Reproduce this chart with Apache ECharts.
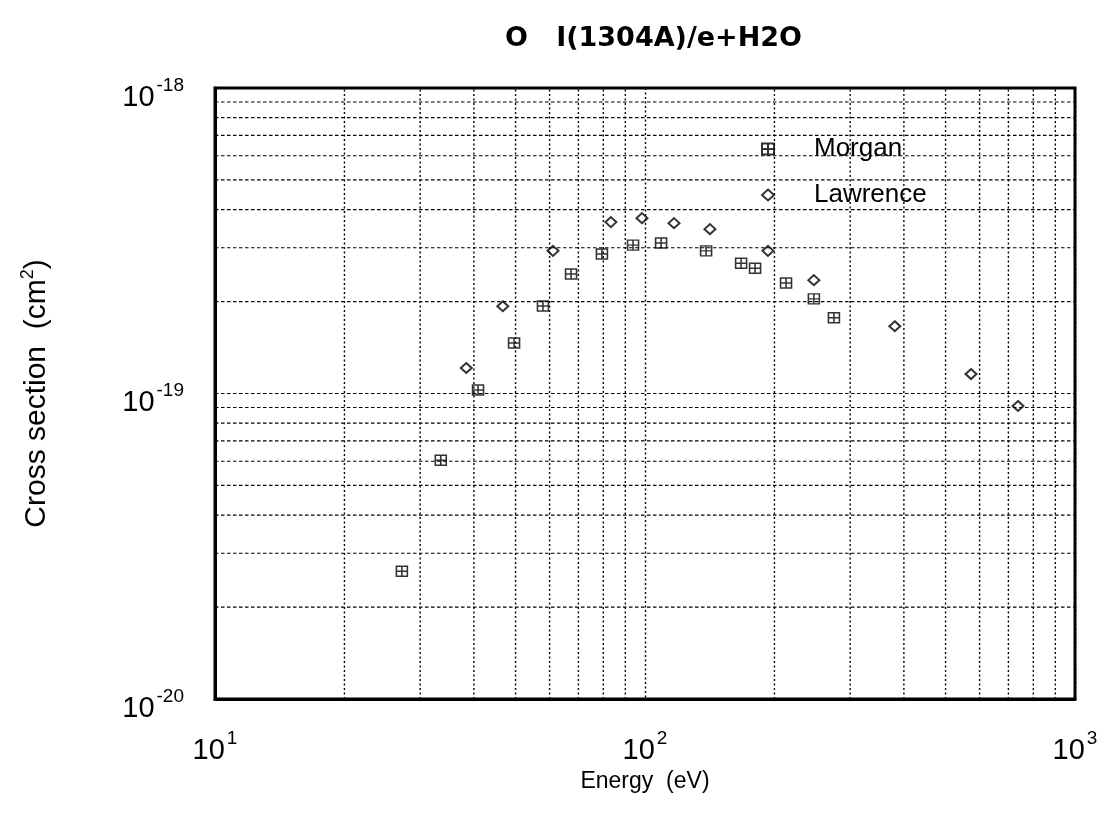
<!DOCTYPE html>
<html>
<head>
<meta charset="utf-8">
<script src="https://cdn.jsdelivr.net/npm/echarts@6/dist/echarts.min.js"></script>
<style>html,body{margin:0;padding:0;background:#fff;}#c{width:1103px;height:822px;}</style>
</head>
<body>
<div id="c"></div>
<script>
// Data
const morganE = [27.2, 33.5, 40.9, 49.6, 57.9, 67.3, 79.4, 93.8, 109, 138.7, 167.3, 180.3, 212.8, 247, 275];
const morganQ = [2.62e-20, 6.05e-20, 1.027e-19, 1.464e-19, 1.934e-19, 2.46e-19, 2.86e-19, 3.06e-19, 3.11e-19, 2.93e-19, 2.67e-19, 2.57e-19, 2.30e-19, 2.04e-19, 1.77e-19];
const lawrenceE = [38.4, 46.7, 61.1, 83.3, 98.4, 116.8, 141.6, 193.2, 247, 381, 573, 737];
const lawrenceQ = [1.212e-19, 1.93e-19, 2.93e-19, 3.64e-19, 3.75e-19, 3.61e-19, 3.45e-19, 2.93e-19, 2.35e-19, 1.66e-19, 1.158e-19, 9.10e-20];
// Minor grid positions (log decades)
const xMinor = [20, 30, 40, 50, 60, 70, 80, 90, 200, 300, 400, 500, 600, 700, 800, 900];
const yMinor = [2e-20, 3e-20, 4e-20, 5e-20, 6e-20, 7e-20, 8e-20, 9e-20, 2e-19, 3e-19, 4e-19, 5e-19, 6e-19, 7e-19, 8e-19, 9e-19];
const xRange = [10, 1000];
const yRange = [1e-20, 1e-18];

const FONT = 'Liberation Sans';
const chart = echarts.init(document.getElementById('c'), null, {renderer: 'canvas'});

function zip(a, b) { return a.map((v, i) => [v, b[i]]); }
const expRich = {
  b: {fontSize: 29, fontFamily: FONT, color: '#000', lineHeight: 36, verticalAlign: 'bottom'},
  s: {fontSize: 19, fontFamily: FONT, color: '#000', lineHeight: 36, verticalAlign: 'top', padding: [0, 0, 0, 2]}
};
function expFmt(v) {
  const e = Math.round(Math.log10(v));
  return '{b|10}{s|' + e + '}';
}
const gridV = {type: [2, 2.5], color: '#000', width: 1.4};
const gridH = {type: [3.5, 2.5], color: '#000', width: 1.2};

const squarePath = 'path://M0,0H10V9H0Z M5,0V9 M0,4.5H10';

const gridSeries = xMinor.map(v => ({
  type: 'line', silent: true, symbol: 'none', z: 1,
  data: [[v, yRange[0]], [v, yRange[1]]], lineStyle: gridV
})).concat(yMinor.map(v => ({
  type: 'line', silent: true, symbol: 'none', z: 1,
  data: [[xRange[0], v], [xRange[1], v]], lineStyle: gridH
})));

chart.setOption({
  animation: false,
  backgroundColor: '#fff',
  title: {
    text: 'O   I(1304A)/e+H2O',
    left: 500, top: 20,
    textStyle: {fontFamily: 'DejaVu Sans', fontSize: 27, fontWeight: 'bold', color: '#000'}
  },
  legend: {
    orient: 'vertical',
    left: 756, top: 131,
    itemGap: 20,
    itemWidth: 12, itemHeight: 11,
    textStyle: {fontFamily: FONT, fontSize: 26, color: '#000', padding: [0, 0, 0, 35]},
    data: ['Morgan', 'Lawrence']
  },
  grid: {left: 215, right: 28, top: 88, bottom: 123, show: true, borderColor: '#000', borderWidth: 3, backgroundColor: 'transparent'},
  xAxis: {
    type: 'log', logBase: 10, min: xRange[0], max: xRange[1],
    name: 'Energy  (eV)', nameLocation: 'middle', nameGap: 54,
    nameTextStyle: {fontFamily: FONT, fontSize: 23, color: '#000'},
    axisLine: {show: true, lineStyle: {color: '#000', width: 3}},
    axisTick: {show: false},
    axisLabel: {formatter: expFmt, rich: expRich, margin: 30},
    splitLine: {show: true, lineStyle: gridV}
  },
  yAxis: {
    type: 'log', logBase: 10, min: yRange[0], max: yRange[1],
    name: 'Cross section  (cm{s|2})', nameLocation: 'middle', nameGap: 160,
    nameTextStyle: {fontFamily: FONT, fontSize: 30, color: '#000',
      rich: {s: {fontFamily: FONT, fontSize: 18, color: '#000', verticalAlign: 'top', lineHeight: 36}}},
    axisLine: {show: true, lineStyle: {color: '#000', width: 3}},
    axisTick: {show: false},
    axisLabel: {formatter: expFmt, rich: expRich, margin: 31, padding: [12, 0, 0, 0]},
    splitLine: {show: true, lineStyle: gridH}
  },
  series: gridSeries.concat([
    {
      name: 'Morgan', type: 'scatter',
      symbol: squarePath, symbolSize: [11, 10],
      itemStyle: {color: 'rgba(255,255,255,0)', borderColor: '#000', borderWidth: 1.5},
      data: zip(morganE, morganQ),
      z: 5
    },
    {
      name: 'Lawrence', type: 'scatter',
      symbol: 'diamond', symbolSize: [11, 10],
      itemStyle: {color: 'rgba(255,255,255,0)', borderColor: '#000', borderWidth: 2},
      data: zip(lawrenceE, lawrenceQ),
      z: 5
    }
  ])
});
</script>
</body>
</html>
